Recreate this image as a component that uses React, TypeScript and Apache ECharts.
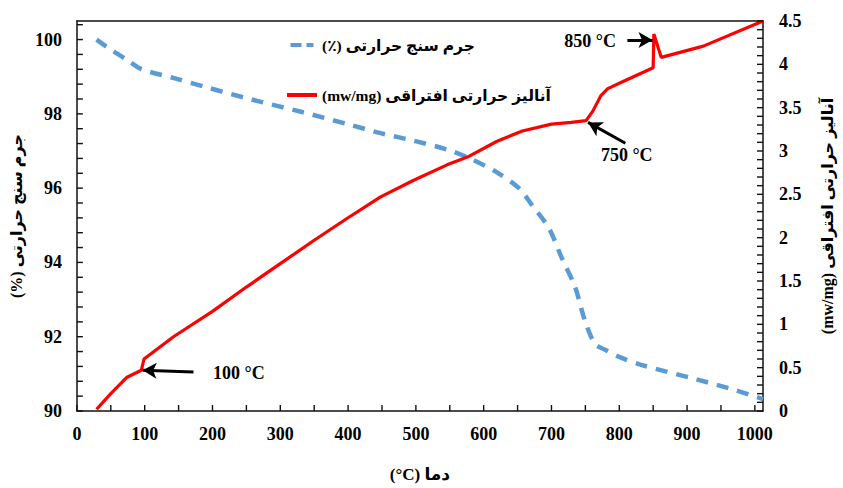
import React, { useEffect, useRef } from "react";
import * as echarts from "echarts";

const xLabels = [0, 100, 200, 300, 400, 500, 600, 700, 800, 900, 1000];
const xTickVals = [0, 50, 100, 150, 200, 250, 300, 350, 400, 450, 500, 550, 600, 650, 700, 750, 800, 850, 900, 950, 1000];
const yLeftLabels = [90, 92, 94, 96, 98, 100];
const yLeftTickVals = [90, 90.4, 90.8, 91.2, 91.6, 92, 92.4, 92.8, 93.2, 93.6, 94, 94.4, 94.8, 95.2, 95.6, 96, 96.4, 96.8, 97.2, 97.6, 98, 98.4, 98.8, 99.2, 99.6, 100, 100.4];
const yRightLabels = [0, 0.5, 1, 1.5, 2, 2.5, 3, 3.5, 4, 4.5];
const yRightTickVals = [0, 0.1, 0.2, 0.3, 0.4, 0.5, 0.6, 0.7, 0.8, 0.9, 1, 1.1, 1.2, 1.3, 1.4, 1.5, 1.6, 1.7, 1.8, 1.9, 2, 2.1, 2.2, 2.3, 2.4, 2.5, 2.6, 2.7, 2.8, 2.9, 3, 3.1, 3.2, 3.3, 3.4, 3.5, 3.6, 3.7, 3.8, 3.9, 4, 4.1, 4.2, 4.3, 4.4, 4.5];

const X_MIN = 0;
const X_MAX = 1012;
const YL_MIN = 90;
const YL_MAX = 100.5;
const YR_MIN = 0;
const YR_MAX = 4.5;

const tgName = "(٪) جرم سنج حرارتی";
const dtaName = "(mw/mg) آنالیز حرارتی افتراقی";

// TG (%) [temperature °C, mass %]
const tgData: [number, number][] = [
  [29, 100.0], [50, 99.73], [75, 99.44], [96, 99.2], [150, 98.93], [186, 98.74],
  [259, 98.38], [332, 98.05], [400, 97.72], [448, 97.48], [496, 97.28], [546, 97.04],
  [576, 96.83], [619, 96.43], [652, 96.0], [671, 95.55], [696, 94.93], [715, 94.13],
  [735, 93.33], [749, 92.45], [764, 91.81], [779, 91.65], [798, 91.47], [831, 91.25],
  [914, 90.85], [962, 90.61], [1012, 90.32],
];

// DTA (mw/mg) [temperature °C, value]
const dtaData: [number, number][] = [
  [29, 0.02], [50, 0.2], [74, 0.39], [95, 0.47], [99, 0.6], [143, 0.86], [200, 1.15],
  [250, 1.43], [300, 1.7], [350, 1.97], [400, 2.23], [448, 2.47], [496, 2.66],
  [546, 2.84], [576, 2.93], [619, 3.11], [657, 3.23], [700, 3.31], [729, 3.33],
  [751, 3.35], [761, 3.46], [773, 3.64], [783, 3.72], [808, 3.81], [850, 3.96],
  [851, 4.35], [862, 4.08], [924, 4.21], [1012, 4.5],
];

// annotations: [label, labelX, labelY, arrowFromX, arrowFromY, arrowToX, arrowToY]
const annotations: [string, number, number, number, number, number, number][] = [
  ["850 °C", 757, 4.27, 812, 4.28, 849, 4.28],
  ["750 °C", 811, 2.95, 809, 3.09, 754, 3.33],
  ["100 °C", 239, 0.435, 172, 0.45, 97, 0.47],
];

const FONT = "'Liberation Serif', 'Times New Roman', 'DejaVu Sans', serif";
const AX = "#111";
const TICK_LEN = 6;
const TICK_W = 1.4;

export default function App() {
  const ref = useRef<HTMLDivElement>(null);
  useEffect(() => {
    if (!ref.current) return;
    const chart = echarts.init(ref.current, undefined, { renderer: "svg" });
    const labelCommon = { color: "#000", fontFamily: FONT, fontWeight: "bold" as const, fontSize: 18 };
    const tickSeries = (
      points: [number, number][],
      yAxisIndex: number,
      size: [number, number],
      offset: [number, number]
    ) => ({
      type: "scatter",
      silent: true,
      clip: false,
      xAxisIndex: 0,
      yAxisIndex,
      z: 10,
      symbol: "rect",
      symbolSize: size,
      symbolOffset: offset,
      itemStyle: { color: AX, opacity: 1 },
      data: points,
    });
    chart.setOption({
      animation: false,
      backgroundColor: "#fff",
      grid: { left: 72, right: 75, top: 21, bottom: 73, containLabel: false },
      legend: {
        orient: "vertical",
        left: 282,
        top: 32,
        itemGap: 34,
        itemWidth: 30,
        itemHeight: 4,
        data: [
          { name: tgName, icon: "path://M0,0h11v4h-11z M16,0h7v4h-7z" },
          { name: dtaName, icon: "path://M0,0h30v4h-30z" },
        ],
        textStyle: { color: "#000", fontFamily: FONT, fontWeight: "bold", fontSize: 15.5 },
      },
      xAxis: [
        {
          type: "value",
          min: X_MIN,
          max: X_MAX,
          name: "(°C) دما",
          nameLocation: "middle",
          nameGap: 55,
          nameTextStyle: { color: "#000", fontFamily: FONT, fontWeight: "bold", fontSize: 17 },
          axisLine: { show: true, onZero: false, lineStyle: { color: AX, width: 1.5 } },
          axisTick: { show: false },
          splitLine: { show: false },
          axisLabel: { ...labelCommon, margin: 14, customValues: xLabels, formatter: (v: number) => String(v) },
        },
        {
          type: "value",
          position: "top",
          min: X_MIN,
          max: X_MAX,
          axisLine: { show: true, onZero: false, lineStyle: { color: AX, width: 1.5 } },
          axisTick: { show: false },
          axisLabel: { show: false },
          splitLine: { show: false },
        },
      ],
      yAxis: [
        {
          type: "value",
          min: YL_MIN,
          max: YL_MAX,
          name: "(%) جرم سنج حرارتی",
          nameLocation: "middle",
          nameGap: 50,
          nameRotate: 90,
          nameTextStyle: { color: "#000", fontFamily: FONT, fontWeight: "bold", fontSize: 16 },
          axisLine: { show: true, onZero: false, lineStyle: { color: AX, width: 1.5 } },
          axisTick: { show: false },
          splitLine: { show: false },
          axisLabel: { ...labelCommon, margin: 15, customValues: yLeftLabels, formatter: (v: number) => String(v) },
        },
        {
          type: "value",
          min: YR_MIN,
          max: YR_MAX,
          position: "right",
          name: "(mw/mg) آنالیز حرارتی افتراقی",
          nameLocation: "middle",
          nameGap: 56,
          nameRotate: 90,
          nameTextStyle: { color: "#000", fontFamily: FONT, fontWeight: "bold", fontSize: 16 },
          axisLine: { show: true, onZero: false, lineStyle: { color: AX, width: 1.5 } },
          axisTick: { show: false },
          splitLine: { show: false },
          axisLabel: { ...labelCommon, margin: 16, customValues: yRightLabels, formatter: (v: number) => String(v) },
        },
      ],
      series: [
        tickSeries(xTickVals.map((v) => [v, YL_MIN] as [number, number]), 0, [TICK_W, TICK_LEN], [0, -TICK_LEN / 2]),
        tickSeries(yLeftTickVals.map((v) => [X_MIN, v] as [number, number]), 0, [TICK_LEN, TICK_W], [TICK_LEN / 2, 0]),
        tickSeries(yRightTickVals.map((v) => [X_MAX, v] as [number, number]), 1, [TICK_LEN, TICK_W], [-TICK_LEN / 2, 0]),
        {
          name: tgName,
          type: "line",
          yAxisIndex: 0,
          data: tgData,
          symbol: "none",
          smooth: 0.3,
          lineStyle: { color: "#5B9BD5", width: 4.5, type: [12, 9] },
          itemStyle: { color: "#5B9BD5" },
        },
        {
          name: dtaName,
          type: "line",
          yAxisIndex: 1,
          data: dtaData,
          symbol: "none",
          lineStyle: { color: "#FF0000", width: 3.2 },
          itemStyle: { color: "#FF0000" },
          markLine: {
            silent: true,
            symbol: ["none", "arrow"],
            symbolSize: [12, 14],
            label: { show: false },
            lineStyle: { color: "#000", width: 3, type: "solid" },
            data: annotations.map((a) => [
              { coord: [a[3], a[4]] },
              { coord: [a[5], a[6]] },
            ]),
          },
          markPoint: {
            silent: true,
            symbol: "circle",
            symbolSize: 1,
            itemStyle: { color: "rgba(0,0,0,0)" },
            label: {
              show: true,
              position: "inside",
              color: "#000",
              fontFamily: FONT,
              fontWeight: "bold",
              fontSize: 18,
              formatter: (p: any) => p.name,
            },
            data: annotations.map((a) => ({ name: a[0], coord: [a[1], a[2]] })),
          },
        },
      ],
    });
    return () => chart.dispose();
  }, []);
  return <div ref={ref} style={{ width: 843, height: 488, position: "absolute", left: 0, top: 0 }} />;
}
